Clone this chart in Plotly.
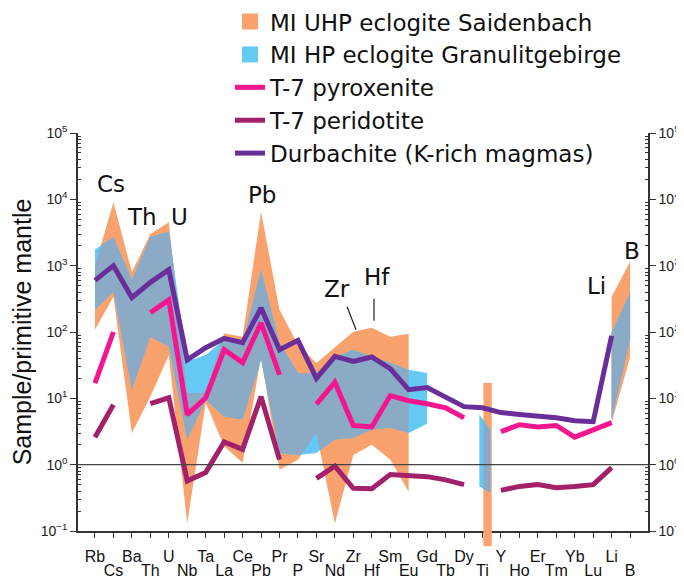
import math
import plotly.graph_objects as go

# ---------------- data ----------------
elements = ["Rb", "Cs", "Ba", "Th", "U", "Nb", "Ta", "La", "Ce", "Pb", "Pr", "P", "Sr", "Nd", "Zr",
            "Hf", "Sm", "Eu", "Gd", "Tb", "Dy", "Ti", "Y", "Ho", "Er", "Tm", "Yb", "Lu", "Li", "B"]

durbachite = [600, 1000, 330, 560, 870, 38, 58, 80, 69, 230, 54, 75, 20, 43, 36, 42, 28, 13.5, 14.5,
              10.2, 7.5, 7.2, 6.1, 5.7, 5.5, 5.1, 4.6, 4.45, 88, None]
pyroxenite = [17, 100, None, 195, 305, 5.7, 10.2, 54, 34.5, 138, 22.7, None, 8.2, 17.5, 3.9, 3.7, 11,
              9.2, 8.3, 7.2, 5.1, None, 3.15, 4.0, 3.7, 3.9, 2.6, 3.4, 4.3, None]
peridotite = [2.6, 8.0, None, 8.3, 10.2, 0.57, 0.76, 2.2, 1.7, 10.6, 1.19, None, 0.62, 0.95, 0.44,
              0.435, 0.71, 0.68, 0.66, 0.59, 0.50, None, 0.41, 0.47, 0.50, 0.45, 0.47, 0.50, 0.90, None]

# MI UHP eclogite Saidenbach (range band)
uhp_upper = [1000, 9000, 800, 3000, 4500, 12, 12, 95, 85, 6500, 217, 64, 34, 58, 101, 116, 85, 94,
             None, None, None, None, None, None, None, None, None, None, 340, 1150]
uhp_lower = [108, 340, 3.0, 10.6, 45, 0.13, 8.6, 1.9, 1.07, 42, 0.84, 1.19, 3.0, 0.13, 1.4, 2.0, 1.2, 0.39,
             None, None, None, None, None, None, None, None, None, None, 4.3, 42]
# MI HP eclogite Granulitgebirge (range band)
hp_upper = [1750, 2700, 615, 2700, 3250, 36, 45, 77, 69, 870, 69, 24, 24, 42, 54, 42, 34.5, 27, 24,
            None, None, None, None, None, None, None, None, None, 98, 390]
hp_lower = [217, 405, 13.5, 85, 60, 2.4, 9.5, 5.3, 4.8, 38, 1.5, 1.4, 1.5, 2.4, 2.55, 3.4, 3.6, 3.0, 4.15,
            None, None, None, None, None, None, None, None, None, 4.8, 77]
# Ti bars (left edge, right edge)
ti_uhp_upper = [17, 17]
ti_uhp_lower = [0.06, 0.06]
ti_hp_upper = [5.7, 3.4]
ti_hp_lower = [0.47, 0.38]

labels_top = ["Cs", "Th", "U", "Pb", "Zr", "Hf", "Li", "B"]
label_pos_x = [0.87, 2.55, 4.6, 9.05, 13.1, 15.3, 27.2, 29.08]
label_pos_y = [4.236, 3.739, 3.739, 4.063, 2.653, 2.834, 2.699, 3.219]  # log10 units

# ---------------- styles ----------------
ORANGE = "#F9A26E"
BLUE = "#66C9F4"
OVERLAP = "#8BAAC6"
PINK = "#F5168F"
DMAG = "#A2216A"
PURPLE = "#6A2E9A"
FONT = "Liberation Sans, Arial, sans-serif"
WIDE = "DejaVu Sans, Liberation Sans, sans-serif"
AX = "#333333"
XR = [-0.92, 29.97]
UHP_TI_OFF = (0.05, 0.5)
HP_TI_OFF = (-0.17, 0.43)

x_idx = list(range(len(elements)))
ti = elements.index("Ti")


def segments(upper, lower, ti_up, ti_lo, ti_off):
    """list of segments; each segment = list of (x, log10 upper, log10 lower)"""
    segs, run = [], []
    for i, u in enumerate(upper):
        if u is None:
            if run:
                segs.append(run)
                run = []
        else:
            run.append((i, math.log10(u), math.log10(lower[i])))
    if run:
        segs.append(run)
    segs.append([(ti + ti_off[0], math.log10(ti_up[0]), math.log10(ti_lo[0])),
                 (ti + ti_off[1], math.log10(ti_up[1]), math.log10(ti_lo[1]))])
    return segs


def at(seg, x):
    for (xa, ua, la), (xb, ub, lb) in zip(seg, seg[1:]):
        if xa <= x <= xb:
            t = 0 if xb == xa else (x - xa) / (xb - xa)
            return ua + t * (ub - ua), la + t * (lb - la)
    return seg[-1][1], seg[-1][2]


def intersect(A, B):
    x0, x1 = max(A[0][0], B[0][0]), min(A[-1][0], B[-1][0])
    if x0 >= x1:
        return None
    xs = sorted({p[0] for p in A + B if x0 <= p[0] <= x1} | {x0, x1})

    def f(x):
        ua, la = at(A, x)
        ub, lb = at(B, x)
        return ua, la, ub, lb

    pts = set(xs)
    for a, b in zip(xs, xs[1:]):
        fa, fb = f(a), f(b)
        for k1, k2 in ((0, 2), (1, 3)):
            ga, gb = fa[k1] - fa[k2], fb[k1] - fb[k2]
            if ga * gb < 0:
                pts.add(a + (b - a) * ga / (ga - gb))
    xs = sorted(pts)

    def ul(x):
        ua, la, ub, lb = f(x)
        return min(ua, ub), max(la, lb)

    pts = set(xs)
    for a, b in zip(xs, xs[1:]):
        (Ua, La), (Ub, Lb) = ul(a), ul(b)
        da, db = Ua - La, Ub - Lb
        if da * db < 0:
            pts.add(a + (b - a) * da / (da - db))
    out = []
    for x in sorted(pts):
        U, L = ul(x)
        if U < L:
            U = L = (U + L) / 2
        out.append((x, U, L))
    return out


def polygon(segs):
    xs, ys = [], []
    for s in segs:
        if not s:
            continue
        xs += [p[0] for p in s] + [p[0] for p in s[::-1]] + [None]
        ys += [10 ** p[1] for p in s] + [10 ** p[2] for p in s[::-1]] + [None]
    return xs, ys


uhp_segs = segments(uhp_upper, uhp_lower, ti_uhp_upper, ti_uhp_lower, UHP_TI_OFF)
hp_segs = segments(hp_upper, hp_lower, ti_hp_upper, ti_hp_lower, HP_TI_OFF)
ov_segs = []
for a in uhp_segs:
    for b in hp_segs:
        r = intersect(a, b)
        if r:
            ov_segs.append(r)

fig = go.Figure()

# legend entries (square patches) for the two bands
fig.add_trace(go.Scatter(x=[None], y=[None], mode="markers", name="MI UHP eclogite Saidenbach",
                         marker=dict(symbol="square", size=22, color=ORANGE), hoverinfo="skip"))
fig.add_trace(go.Scatter(x=[None], y=[None], mode="markers", name="MI HP eclogite Granulitgebirge",
                         marker=dict(symbol="square", size=22, color=BLUE), hoverinfo="skip"))

for segs, col in ((uhp_segs, ORANGE), (hp_segs, BLUE), (ov_segs, OVERLAP)):
    px, py = polygon(segs)
    fig.add_trace(go.Scatter(x=px, y=py, fill="toself", fillcolor=col, mode="lines",
                             line=dict(width=0, color=col), showlegend=False, hoverinfo="skip"))

fig.add_trace(go.Scatter(x=x_idx, y=pyroxenite, mode="lines", line=dict(color=PINK, width=5),
                         name="T-7 pyroxenite", connectgaps=False))
fig.add_trace(go.Scatter(x=x_idx, y=peridotite, mode="lines", line=dict(color=DMAG, width=5),
                         name="T-7 peridotite", connectgaps=False))
fig.add_trace(go.Scatter(x=x_idx, y=durbachite, mode="lines", line=dict(color=PURPLE, width=5),
                         name="Durbachite (K-rich magmas)", connectgaps=False))
# dummy traces so the right axis and the second label row exist
fig.add_trace(go.Scatter(x=[None], y=[None], xaxis="x", yaxis="y2", showlegend=False, hoverinfo="skip"))
fig.add_trace(go.Scatter(x=[None], y=[None], xaxis="x2", yaxis="y", showlegend=False, hoverinfo="skip"))

odd_idx = x_idx[1::2]
ytickvals = [0.1, 1, 10, 100, 1000, 10000, 100000]
yticktext = ["10<sup>\u22121</sup>", "10<sup>0</sup>", "10<sup>1</sup>", "10<sup>2</sup>",
             "10<sup>3</sup>", "10<sup>4</sup>", "10<sup>5</sup>"]
minor_vals = [m * 10 ** k for k in range(-1, 5) for m in range(2, 10)]

yax = dict(type="log", range=[-1, 5], tickmode="array", tickvals=ytickvals, ticktext=yticktext,
           ticks="outside", ticklen=6, tickwidth=1.2, tickcolor=AX, showline=True, linecolor=AX,
           linewidth=1.5, showgrid=False, zeroline=False, automargin=False,
           tickfont=dict(size=14, color="#222", family=FONT),
           minor=dict(tickmode="array", tickvals=minor_vals, ticks="inside", ticklen=3,
                      tickwidth=1, tickcolor=AX, showgrid=False))

# the page body has an 8px margin, so the figure is drawn 8px in from the top-left corner
fig.update_layout(
    width=684, height=580,
    margin=dict(l=70, r=44, t=125, b=57, autoexpand=False),
    paper_bgcolor="white", plot_bgcolor="white",
    font=dict(family=FONT, color="#111"),
    xaxis=dict(range=XR, tickmode="array", tickvals=x_idx,
               ticktext=[e if i % 2 == 0 else "" for i, e in enumerate(elements)],
               ticks="outside", ticklen=5, tickwidth=1.2, tickcolor=AX, showline=True,
               linecolor=AX, linewidth=1.5, showgrid=False, zeroline=False, automargin=False,
               tickfont=dict(size=16, color="#111", family=FONT), tickangle=0,
               ticklabelstandoff=5),
    xaxis2=dict(range=XR, overlaying="x", side="bottom", anchor="y", tickmode="array",
                tickvals=odd_idx, ticktext=[elements[i] for i in odd_idx], ticks="",
                showline=False, showgrid=False, zeroline=False, automargin=False,
                tickfont=dict(size=16, color="#111", family=FONT), tickangle=0,
                ticklabelstandoff=28),
    yaxis=dict(**yax, title=dict(text="Sample/primitive mantle",
                                 font=dict(size=25, color="#111", family=FONT), standoff=3)),
    yaxis2=dict(**yax, overlaying="y", side="right", anchor="x"),
    showlegend=True,
    legend=dict(x=0.2667, y=1.334, xanchor="left", yanchor="top", bgcolor="rgba(0,0,0,0)",
                font=dict(size=23, family=WIDE, color="#111"), traceorder="normal"),
)

# reference line at 1
fig.add_shape(type="line", xref="paper", x0=0, x1=1, yref="y", y0=1, y1=1,
              line=dict(color="#444", width=1.2))
# leader lines for Zr and Hf
fig.add_shape(type="line", xref="x", yref="y", x0=13.66, x1=14.15, y0=241, y1=108,
              line=dict(color="#222", width=1.2))
fig.add_shape(type="line", xref="x", yref="y", x0=15.12, x1=15.12, y0=318, y1=148,
              line=dict(color="#222", width=1.2))
# part of the Ti bar that runs below the axis
tx0 = (ti + UHP_TI_OFF[0] - XR[0]) / (XR[1] - XR[0])
tx1 = (ti + UHP_TI_OFF[1] - XR[0]) / (XR[1] - XR[0])
fig.add_shape(type="rect", xref="paper", yref="paper", x0=tx0, x1=tx1, y0=-0.038, y1=0,
              fillcolor=ORANGE, line=dict(width=0), layer="above")

for t, lx, ly in zip(labels_top, label_pos_x, label_pos_y):
    fig.add_annotation(x=lx, y=ly, xref="x", yref="y", text=t, showarrow=False,
                       font=dict(size=23, family=WIDE, color="#111"))

fig.write_html("out.html")
